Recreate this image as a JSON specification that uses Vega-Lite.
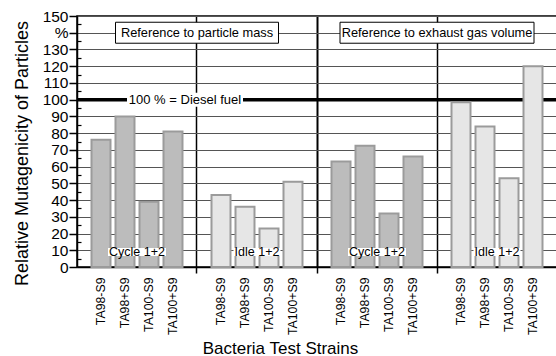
{
  "$schema": "https://vega.github.io/schema/vega-lite/v6.json",
  "width": 480,
  "height": 251,
  "autosize": "none",
  "padding": {"left": 77, "top": 16, "right": 0, "bottom": 89},
  "background": "white",
  "config": {
    "view": {"stroke": "black", "strokeWidth": 1.5},
    "font": "Liberation Sans"
  },
  "datasets": {
    "bars": [
      {"slot": "Cycle mass:TA98-S9", "panel": "Cycle mass", "mode": "Cycle", "strain": "TA98-S9", "value": 76},
      {"slot": "Cycle mass:TA98+S9", "panel": "Cycle mass", "mode": "Cycle", "strain": "TA98+S9", "value": 90},
      {"slot": "Cycle mass:TA100-S9", "panel": "Cycle mass", "mode": "Cycle", "strain": "TA100-S9", "value": 39},
      {"slot": "Cycle mass:TA100+S9", "panel": "Cycle mass", "mode": "Cycle", "strain": "TA100+S9", "value": 81},
      {"slot": "Idle mass:TA98-S9", "panel": "Idle mass", "mode": "Idle", "strain": "TA98-S9", "value": 43},
      {"slot": "Idle mass:TA98+S9", "panel": "Idle mass", "mode": "Idle", "strain": "TA98+S9", "value": 36},
      {"slot": "Idle mass:TA100-S9", "panel": "Idle mass", "mode": "Idle", "strain": "TA100-S9", "value": 23},
      {"slot": "Idle mass:TA100+S9", "panel": "Idle mass", "mode": "Idle", "strain": "TA100+S9", "value": 51},
      {"slot": "Cycle volume:TA98-S9", "panel": "Cycle volume", "mode": "Cycle", "strain": "TA98-S9", "value": 63},
      {"slot": "Cycle volume:TA98+S9", "panel": "Cycle volume", "mode": "Cycle", "strain": "TA98+S9", "value": 72.5},
      {"slot": "Cycle volume:TA100-S9", "panel": "Cycle volume", "mode": "Cycle", "strain": "TA100-S9", "value": 32},
      {"slot": "Cycle volume:TA100+S9", "panel": "Cycle volume", "mode": "Cycle", "strain": "TA100+S9", "value": 66},
      {"slot": "Idle volume:TA98-S9", "panel": "Idle volume", "mode": "Idle", "strain": "TA98-S9", "value": 98.5},
      {"slot": "Idle volume:TA98+S9", "panel": "Idle volume", "mode": "Idle", "strain": "TA98+S9", "value": 84},
      {"slot": "Idle volume:TA100-S9", "panel": "Idle volume", "mode": "Idle", "strain": "TA100-S9", "value": 53},
      {"slot": "Idle volume:TA100+S9", "panel": "Idle volume", "mode": "Idle", "strain": "TA100+S9", "value": 120}
    ],
    "panels": [
      {"panel": "Cycle mass", "label": "Cycle 1+2"},
      {"panel": "Idle mass", "label": "Idle 1+2"},
      {"panel": "Cycle volume", "label": "Cycle 1+2"},
      {"panel": "Idle volume", "label": "Idle 1+2"}
    ],
    "refs": [
      {"ref": "mass", "label": "Reference to particle mass"},
      {"ref": "volume", "label": "Reference to exhaust gas volume"}
    ],
    "diesel": [
      {"ref": "mass", "label": "100 % = Diesel fuel", "value": 100}
    ]
  },
  "resolve": {
    "scale": {"x": "independent", "shape": "independent", "size": "independent"},
    "axis": {"y": "independent"}
  },
  "layer": [
    {
      "data": {"name": "diesel"},
      "mark": {"type": "rule", "color": "black", "strokeWidth": 3.5},
      "encoding": {
        "y": {
          "field": "value",
          "type": "quantitative",
          "axis": {
            "orient": "left",
            "values": [5, 15, 25, 35, 45, 55, 65, 75, 85, 95, 105, 115, 125, 135, 145],
            "labels": false,
            "domain": false,
            "grid": false,
            "title": null,
            "ticks": true,
            "tickSize": -4,
            "tickColor": "black",
            "tickWidth": 1.2
          }
        }
      }
    },
    {
      "data": {"name": "bars"},
      "mark": {"type": "bar", "width": 19, "stroke": "#9b9b9b", "strokeWidth": 2},
      "encoding": {
        "x": {
          "field": "slot",
          "type": "nominal",
          "sort": null,
          "scale": {
            "domain": [
              "Cycle mass:TA98-S9", "Cycle mass:TA98+S9", "Cycle mass:TA100-S9", "Cycle mass:TA100+S9", "gap1",
              "Idle mass:TA98-S9", "Idle mass:TA98+S9", "Idle mass:TA100-S9", "Idle mass:TA100+S9", "gap2",
              "Cycle volume:TA98-S9", "Cycle volume:TA98+S9", "Cycle volume:TA100-S9", "Cycle volume:TA100+S9", "gap3",
              "Idle volume:TA98-S9", "Idle volume:TA98+S9", "Idle volume:TA100-S9", "Idle volume:TA100+S9"
            ],
            "paddingInner": 0.16667,
            "paddingOuter": 0.58333
          },
          "axis": {
            "title": "Bacteria Test Strains",
            "titleFontSize": 17,
            "titleFontWeight": "normal",
            "titleColor": "black",
            "titleX": 203,
            "titleY": 86,
            "titleAlign": "center",
            "titleBaseline": "alphabetic",
            "labelExpr": "split(datum.value, ':')[1] || ''",
            "labelAngle": 270,
            "labelAlign": "right",
            "labelBaseline": "middle",
            "labelPadding": 4,
            "labelFontSize": 12.3,
            "labelColor": "black",
            "labelOverlap": false,
            "domainColor": "black",
            "domainWidth": 1.5,
            "ticks": true,
            "tickSize": 6,
            "tickColor": "black",
            "tickWidth": 1.5,
            "tickOpacity": {"condition": {"test": "indexof(datum.value, 'gap') === 0", "value": 1}, "value": 0},
            "grid": true,
            "gridColor": "black",
            "gridOpacity": {"condition": {"test": "indexof(datum.value, 'gap') === 0", "value": 1}, "value": 0},
            "gridWidth": {"condition": {"test": "datum.value === 'gap2'", "value": 2}, "value": 1.5}
          }
        },
        "y": {
          "field": "value",
          "type": "quantitative",
          "scale": {"domain": [0, 150], "nice": false, "zero": true},
          "axis": {
            "orient": "left",
            "values": [0, 10, 20, 30, 40, 50, 60, 70, 80, 90, 100, 110, 120, 130, 140, 150],
            "labelExpr": "datum.value == 140 ? '%' : datum.label",
            "labelFontSize": 15.5,
            "labelPadding": 1,
            "labelColor": "black",
            "tickSize": 8,
            "tickColor": "black",
            "tickWidth": 1.5,
            "domainColor": "black",
            "domainWidth": 1.5,
            "grid": true,
            "gridColor": "#555555",
            "gridWidth": 1,
            "title": "Relative Mutagenicity of Particles",
            "titleFontSize": 18,
            "titleFontWeight": "normal",
            "titleColor": "black",
            "titleAngle": 270,
            "titleX": -50,
            "titleY": 137,
            "titleAlign": "center",
            "titleBaseline": "alphabetic"
          }
        },
        "fill": {
          "field": "mode",
          "type": "nominal",
          "scale": {"domain": ["Cycle", "Idle"], "range": ["#bcbcbc", "#e6e6e6"]},
          "legend": null
        }
      }
    },
    {
      "data": {"name": "panels"},
      "encoding": {
        "x": {
          "field": "panel",
          "type": "nominal",
          "sort": null,
          "scale": {"domain": ["Cycle mass", "Idle mass", "Cycle volume", "Idle volume"], "paddingInner": 0, "paddingOuter": 0},
          "axis": null
        },
        "y": {"datum": 9, "type": "quantitative", "axis": null}
      },
      "layer": [
        {
          "mark": {"type": "point", "filled": true, "fill": "white", "opacity": 1, "strokeWidth": 0},
          "encoding": {
            "shape": {
              "field": "label",
              "type": "nominal",
              "scale": {"domain": ["Cycle 1+2", "Idle 1+2"], "range": ["M-1,-0.1379H1V0.1379H-1Z", "M-1,-0.1702H1V0.1702H-1Z"]},
              "legend": null
            },
            "size": {
              "field": "label",
              "type": "ordinal",
              "scale": {"domain": ["Cycle 1+2", "Idle 1+2"], "range": [3364, 2209]},
              "legend": null
            }
          }
        },
        {
          "mark": {"type": "text", "fontSize": 12.5, "align": "center", "baseline": "middle", "color": "black"},
          "encoding": {"text": {"field": "label"}}
        }
      ]
    },
    {
      "data": {"name": "diesel"},
      "encoding": {
        "x": {
          "field": "ref",
          "type": "nominal",
          "scale": {"domain": ["mass", "volume"], "paddingInner": 0, "paddingOuter": 0},
          "axis": null
        },
        "y": {"field": "value", "type": "quantitative", "axis": null}
      },
      "layer": [
        {
          "mark": {"type": "point", "filled": true, "fill": "white", "opacity": 1, "strokeWidth": 0, "xOffset": -12},
          "encoding": {
            "shape": {"value": "M-1,-0.1207H1V0.1207H-1Z"},
            "size": {"value": 13456}
          }
        },
        {
          "mark": {"type": "text", "fontSize": 13, "align": "center", "baseline": "middle", "color": "black", "dx": -12},
          "encoding": {"text": {"field": "label"}}
        }
      ]
    },
    {
      "data": {"name": "refs"},
      "encoding": {
        "x": {
          "field": "ref",
          "type": "nominal",
          "scale": {"domain": ["mass", "volume"], "paddingInner": 0, "paddingOuter": 0},
          "axis": null
        },
        "y": {"datum": 140, "type": "quantitative", "axis": null}
      },
      "layer": [
        {
          "mark": {"type": "point", "filled": true, "fill": "white", "opacity": 1, "stroke": "black", "strokeWidth": 1},
          "encoding": {
            "shape": {
              "field": "ref",
              "type": "nominal",
              "scale": {"domain": ["mass", "volume"], "range": ["M-1,-0.1288H1V0.1288H-1Z", "M-1,-0.1082H1V0.1082H-1Z"]},
              "legend": null
            },
            "size": {
              "field": "ref",
              "type": "ordinal",
              "scale": {"domain": ["mass", "volume"], "range": [26569, 37636]},
              "legend": null
            }
          }
        },
        {
          "mark": {"type": "text", "fontSize": 12.8, "align": "center", "baseline": "middle", "color": "black"},
          "encoding": {"text": {"field": "label"}}
        }
      ]
    }
  ]
}
